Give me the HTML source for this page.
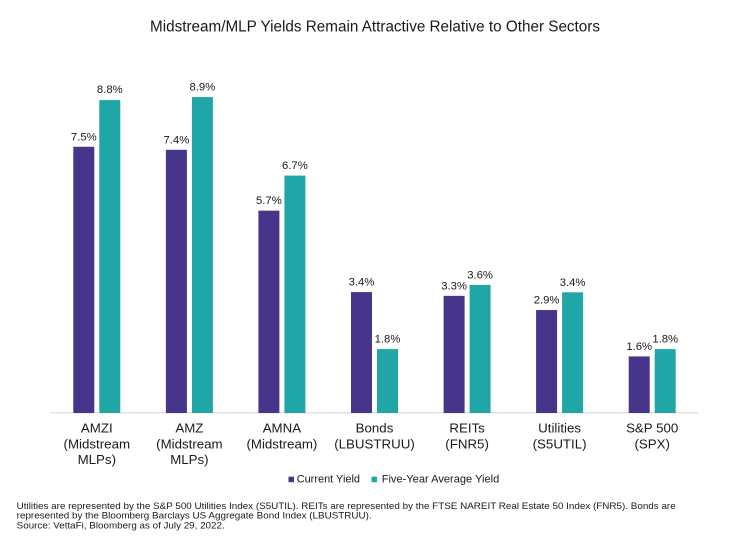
<!DOCTYPE html>
<html>
<head>
<meta charset="utf-8">
<style>
  html,body{margin:0;padding:0;background:#fff;}
  svg{display:block;}
  text{font-family:"Liberation Sans",Arial,sans-serif;fill:#1a1a1a;}
</style>
</head>
<body>
<svg width="750" height="544" viewBox="0 0 750 544" xmlns="http://www.w3.org/2000/svg">
  <rect x="0" y="0" width="750" height="544" fill="#fff"/>
  <!-- Title -->
  <text x="375" y="31.7" font-size="15.5" text-anchor="middle" textLength="450" lengthAdjust="spacingAndGlyphs">Midstream/MLP Yields Remain Attractive Relative to Other Sectors</text>

  <!-- axis line -->
  <line x1="50.5" y1="412.8" x2="698.5" y2="412.8" stroke="#d9d9d9" stroke-width="1.2"/>

  <g>
    <!-- AMZI c=96.8 -->
    <rect x="73.3" y="146.75" width="21" height="266.25" fill="#46358a"/>
    <rect x="99.3" y="100.1" width="21" height="312.9" fill="#21a6a8"/>
    <!-- AMZ c=189.4 -->
    <rect x="165.9" y="149.8" width="21" height="263.2" fill="#46358a"/>
    <rect x="191.9" y="97.05" width="21" height="315.95" fill="#21a6a8"/>
    <!-- AMNA c=281.9 -->
    <rect x="258.4" y="210.65" width="21" height="202.35" fill="#46358a"/>
    <rect x="284.4" y="175.6" width="21" height="237.4" fill="#21a6a8"/>
    <!-- Bonds c=374.5 -->
    <rect x="351" y="292.1" width="21" height="120.9" fill="#46358a"/>
    <rect x="377" y="349.1" width="21" height="63.9" fill="#21a6a8"/>
    <!-- REITs c=467.1 -->
    <rect x="443.6" y="295.85" width="21" height="117.15" fill="#46358a"/>
    <rect x="469.6" y="284.9" width="21" height="128.1" fill="#21a6a8"/>
    <!-- Utilities c=559.6 -->
    <rect x="536.1" y="310.05" width="21" height="102.95" fill="#46358a"/>
    <rect x="562.1" y="292.3" width="21" height="120.7" fill="#21a6a8"/>
    <!-- S&P c=652.2 -->
    <rect x="628.7" y="356.4" width="21" height="56.6" fill="#46358a"/>
    <rect x="654.7" y="349.1" width="21" height="63.9" fill="#21a6a8"/>
  </g>

  <!-- value labels -->
  <g font-size="11.3" text-anchor="middle">
    <text x="83.8" y="140.3">7.5%</text>
    <text x="109.8" y="93.0">8.8%</text>
    <text x="176.4" y="143.3">7.4%</text>
    <text x="202.4" y="90.6">8.9%</text>
    <text x="268.9" y="204.2">5.7%</text>
    <text x="294.9" y="169.1">6.7%</text>
    <text x="361.5" y="285.6">3.4%</text>
    <text x="387.5" y="342.6">1.8%</text>
    <text x="454.1" y="289.4">3.3%</text>
    <text x="480.1" y="278.4">3.6%</text>
    <text x="546.6" y="303.6">2.9%</text>
    <text x="572.6" y="285.8">3.4%</text>
    <text x="639.2" y="349.9">1.6%</text>
    <text x="665.2" y="342.6">1.8%</text>
  </g>

  <!-- category labels -->
  <g font-size="13.3" text-anchor="middle">
    <text x="96.8" y="432.6">AMZI</text>
    <text x="96.8" y="448.4">(Midstream</text>
    <text x="96.8" y="464.2">MLPs)</text>

    <text x="189.4" y="432.6">AMZ</text>
    <text x="189.4" y="448.4">(Midstream</text>
    <text x="189.4" y="464.2">MLPs)</text>

    <text x="281.9" y="432.6">AMNA</text>
    <text x="281.9" y="448.4">(Midstream)</text>

    <text x="374.5" y="432.6">Bonds</text>
    <text x="374.5" y="448.4">(LBUSTRUU)</text>

    <text x="467.1" y="432.6">REITs</text>
    <text x="467.1" y="448.4">(FNR5)</text>

    <text x="559.6" y="432.6">Utilities</text>
    <text x="559.6" y="448.4">(S5UTIL)</text>

    <text x="652.2" y="432.6">S&amp;P 500</text>
    <text x="652.2" y="448.4">(SPX)</text>
  </g>

  <!-- legend -->
  <rect x="288.5" y="476.7" width="5.5" height="5.5" fill="#46358a"/>
  <text x="296.7" y="482.7" font-size="11.2" textLength="63.3" lengthAdjust="spacingAndGlyphs">Current Yield</text>
  <rect x="371.5" y="476.7" width="5.5" height="5.5" fill="#21a6a8"/>
  <text x="381.7" y="482.7" font-size="11.2" textLength="117.6" lengthAdjust="spacingAndGlyphs">Five-Year Average Yield</text>

  <!-- footnote -->
  <g font-size="9.3">
    <text x="16.7" y="509" textLength="659" lengthAdjust="spacingAndGlyphs">Utilities are represented by the S&amp;P 500 Utilities Index (S5UTIL). REITs are represented by the FTSE NAREIT Real Estate 50 Index (FNR5). Bonds are</text>
    <text x="16.7" y="518.7" textLength="355" lengthAdjust="spacingAndGlyphs">represented by the Bloomberg Barclays US Aggregate Bond Index (LBUSTRUU).</text>
    <text x="16.7" y="528.4" textLength="208" lengthAdjust="spacingAndGlyphs">Source: VettaFi, Bloomberg as of July 29, 2022.</text>
  </g>
</svg>
</body>
</html>
